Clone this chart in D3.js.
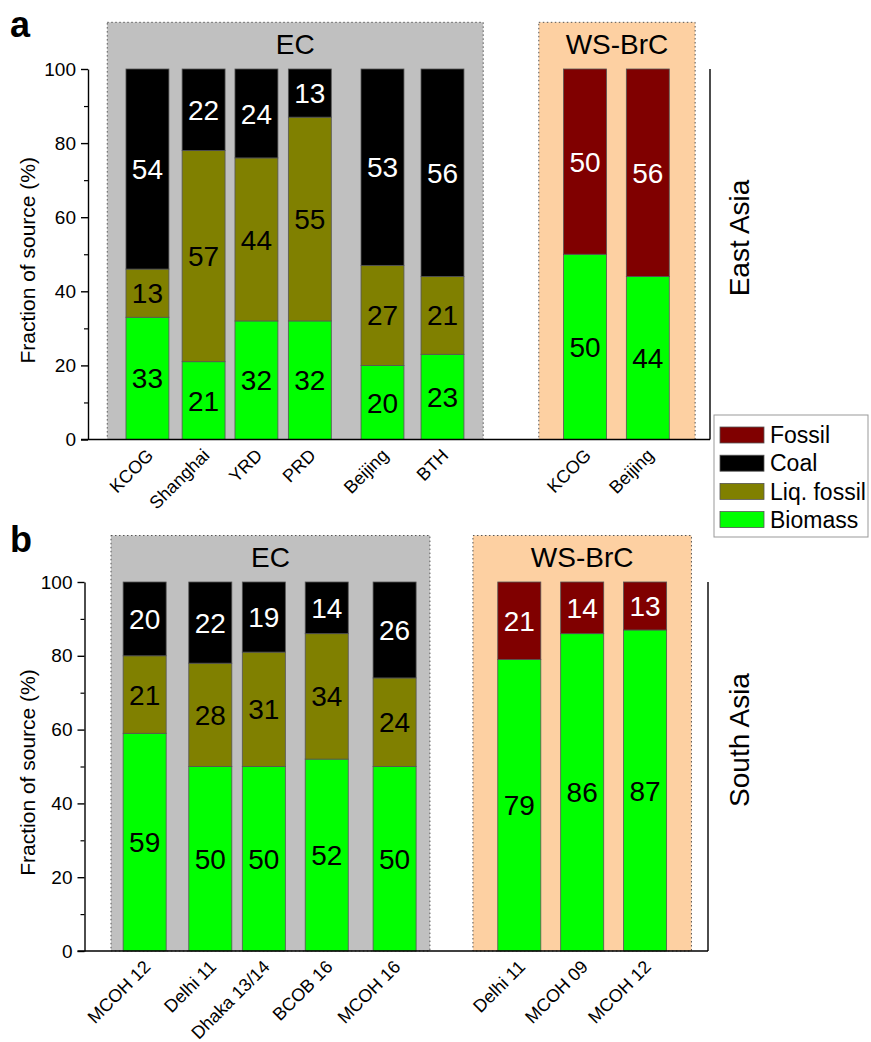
<!DOCTYPE html>
<html>
<head>
<meta charset="utf-8">
<script src="https://cdn.jsdelivr.net/npm/d3@7"></script>
<style>
  body { margin: 0; background: #fff; }
  svg { font-family: "Liberation Sans", Arial, sans-serif; }
</style>
</head>
<body>
<div id="chart"></div>
<script>
// source categories and colours
var sourceKeys = ["Biomass", "Liq. fossil", "Coal", "Fossil"];
var legendOrder = ["Fossil", "Coal", "Liq. fossil", "Biomass"];
var sourceColors = ["#00ff00", "#808000", "#000000", "#800000"];
var labelColors = ["#000", "#000", "#fff", "#fff"];

// panel a - East Asia, EC
var eaEcSites = ["KCOG", "Shanghai", "YRD", "PRD", "Beijing", "BTH"];
var eaEcPos = [1.08, 2.10, 3.06, 4.03, 5.35, 6.44];
var eaEcBiomass = [33, 21, 32, 32, 20, 23];
var eaEcLiq = [13, 57, 44, 55, 27, 21];
var eaEcCoal = [54, 22, 24, 13, 53, 56];
// panel a - East Asia, WS-BrC
var eaWsSites = ["KCOG", "Beijing"];
var eaWsPos = [9.03, 10.17];
var eaWsBiomass = [50, 44];
var eaWsFossil = [50, 56];

// panel b - South Asia, EC
var saEcSites = ["MCOH 12", "Delhi 11", "Dhaka 13/14", "BCOB 16", "MCOH 16"];
var saEcPos = [1.09, 2.28, 3.25, 4.39, 5.62];
var saEcBiomass = [59, 50, 50, 52, 50];
var saEcLiq = [21, 28, 31, 34, 24];
var saEcCoal = [20, 22, 19, 14, 26];
// panel b - South Asia, WS-BrC
var saWsSites = ["Delhi 11", "MCOH 09", "MCOH 12"];
var saWsPos = [7.88, 9.02, 10.16];
var saWsBiomass = [79, 86, 87];
var saWsFossil = [21, 14, 13];

// group boxes (x range in axis units)
var eaGroups = [["EC", 0.35, 7.18, "#c0c0c0"], ["WS-BrC", 8.19, 11.03, "#fdd0a2"]];
var saGroups = [["EC", 0.48, 6.26, "#c0c0c0"], ["WS-BrC", 7.04, 11.0, "#fdd0a2"]];

var yMajor = [0, 20, 40, 60, 80, 100];
var yMinor = [10, 30, 50, 70, 90];

var W = 871, H = 1042;
var svg = d3.select("#chart").append("svg")
    .attr("width", W)
    .attr("height", H);

function makeRows(sites, pos, cols) {
  return sites.map(function(s, i) {
    var r = { site: s, pos: pos[i] };
    sourceKeys.forEach(function(k) { r[k] = cols[k] ? cols[k][i] : 0; });
    return r;
  });
}

function drawPanel(p) {
  var g = svg.append("g");
  var x = d3.scaleLinear().domain([0, 11.3]).range([p.left, p.right]);
  var y = d3.scaleLinear().domain([0, 100]).range([p.bottom, p.top]);
  var bw = x(0.78) - x(0);

  // group backgrounds
  p.groups.forEach(function(gr) {
    g.append("rect")
      .attr("x", x(gr[1]))
      .attr("y", y(112.6))
      .attr("width", x(gr[2]) - x(gr[1]))
      .attr("height", y(0) - y(112.6))
      .attr("fill", gr[3])
      .attr("stroke", "#555")
      .attr("stroke-width", 1)
      .attr("stroke-dasharray", "1.5,2.5");
    g.append("text")
      .attr("x", (x(gr[1]) + x(gr[2])) / 2)
      .attr("y", y(104))
      .attr("text-anchor", "middle")
      .attr("font-size", 28)
      .attr("fill", "#000")
      .text(gr[0]);
  });

  var stack = d3.stack().keys(sourceKeys);
  var series = stack(p.rows);

  series.forEach(function(s, si) {
    var seg = g.append("g");
    s.forEach(function(d) {
      var v = d[1] - d[0];
      if (v <= 0) return;
      var cx = x(d.data.pos);
      seg.append("rect")
        .attr("x", cx - bw / 2)
        .attr("y", y(d[1]))
        .attr("width", bw)
        .attr("height", y(d[0]) - y(d[1]))
        .attr("fill", sourceColors[si])
        .attr("stroke", "#555")
        .attr("stroke-width", 0.8);
      seg.append("text")
        .attr("x", cx)
        .attr("y", y((d[0] + d[1]) / 2))
        .attr("dy", "0.36em")
        .attr("text-anchor", "middle")
        .attr("font-size", 28)
        .attr("fill", labelColors[si])
        .text(v);
    });
  });

  // x labels
  p.rows.forEach(function(d) {
    g.append("text")
      .attr("transform", "translate(" + (x(d.pos) + 7) + "," + (p.bottom + 17) + ") rotate(-45)")
      .attr("text-anchor", "end")
      .attr("font-size", 18)
      .text(d.site);
  });

  // axes
  var ax = g.append("g")
    .attr("transform", "translate(" + p.left + ",0)")
    .call(d3.axisLeft(y).tickValues(yMajor).tickSize(7).tickSizeOuter(0).tickPadding(5));
  ax.selectAll("text").attr("font-size", 19).attr("font-family", null).attr("fill", "#000");
  ax.selectAll("line, path").attr("stroke", "#000").attr("stroke-width", 1.4);

  var axm = g.append("g")
    .attr("transform", "translate(" + p.left + ",0)")
    .call(d3.axisLeft(y).tickValues(yMinor).tickSize(4).tickSizeOuter(0).tickFormat(""));
  axm.select("path").remove();
  axm.selectAll("line").attr("stroke", "#000").attr("stroke-width", 1.2);

  g.append("line")
    .attr("x1", p.left - 7).attr("x2", p.right)
    .attr("y1", y(0)).attr("y2", y(0))
    .attr("stroke", "#000").attr("stroke-width", 1.4);
  g.append("line")
    .attr("x1", p.right).attr("x2", p.right)
    .attr("y1", y(100)).attr("y2", y(0))
    .attr("stroke", "#000").attr("stroke-width", 1.4);

  // titles
  g.append("text")
    .attr("transform", "translate(28," + ((y(0) + y(100)) / 2 + 6) + ") rotate(-90)")
    .attr("text-anchor", "middle")
    .attr("dy", "0.35em")
    .attr("font-size", 21)
    .text("Fraction of source (%)");
  g.append("text")
    .attr("transform", "translate(739," + p.regionY + ") rotate(-90)")
    .attr("text-anchor", "middle")
    .attr("dy", "0.35em")
    .attr("font-size", 28)
    .text(p.region);
  g.append("text")
    .attr("x", 10)
    .attr("y", p.letterY)
    .attr("font-size", 36)
    .attr("font-weight", "bold")
    .text(p.letter);
}

var eaRows = makeRows(eaEcSites, eaEcPos, { "Biomass": eaEcBiomass, "Liq. fossil": eaEcLiq, "Coal": eaEcCoal })
  .concat(makeRows(eaWsSites, eaWsPos, { "Biomass": eaWsBiomass, "Fossil": eaWsFossil }));
var saRows = makeRows(saEcSites, saEcPos, { "Biomass": saEcBiomass, "Liq. fossil": saEcLiq, "Coal": saEcCoal })
  .concat(makeRows(saWsSites, saWsPos, { "Biomass": saWsBiomass, "Fossil": saWsFossil }));

drawPanel({ rows: eaRows, groups: eaGroups, left: 88, right: 710, top: 69, bottom: 439.5,
  region: "East Asia", regionY: 238, letter: "a", letterY: 37 });
drawPanel({ rows: saRows, groups: saGroups, left: 84.5, right: 708, top: 582, bottom: 951,
  region: "South Asia", regionY: 740, letter: "b", letterY: 552 });

// legend
var leg = svg.append("g").attr("transform", "translate(714,415)");
leg.append("rect")
  .attr("width", 154).attr("height", 122)
  .attr("fill", "#fff").attr("stroke", "#999").attr("stroke-width", 1);
legendOrder.forEach(function(k, i) {
  var ci = sourceKeys.indexOf(k);
  leg.append("rect")
    .attr("x", 6).attr("y", 12 + i * 28.2)
    .attr("width", 44).attr("height", 16)
    .attr("fill", sourceColors[ci])
    .attr("stroke", "#555").attr("stroke-width", 0.8);
  leg.append("text")
    .attr("x", 56).attr("y", 20 + i * 28.2)
    .attr("dy", "0.36em")
    .attr("font-size", 23)
    .text(k);
});
</script>
</body>
</html>
